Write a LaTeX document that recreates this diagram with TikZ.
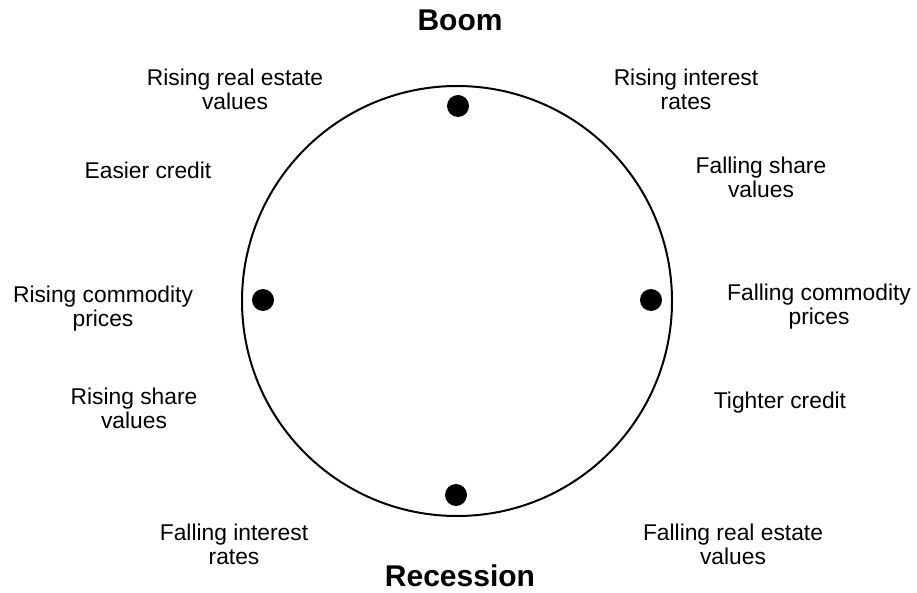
\documentclass[tikz,border=0pt]{standalone}
\usepackage{fontspec}
\setmainfont{Liberation Sans}
\begin{document}
\begin{tikzpicture}[x=1pt,y=-1pt,
  lbl/.style={align=center,font=\fontsize{22.8}{24}\selectfont,inner sep=0pt},
  ttl/.style={font=\fontsize{30}{32}\selectfont\bfseries,inner sep=0pt},
  dot/.style={circle,fill=black,minimum size=22pt,inner sep=0pt}]
\useasboundingbox (0,0) rectangle (917,593);
\node[circle,draw,line width=2pt,minimum size=430pt,inner sep=0pt] (cyc) at (457,301) {};
\node[dot] (d1) at (458,106) {};
\node[dot] (d2) at (263,300) {};
\node[dot] (d3) at (651,300) {};
\node[dot] (d4) at (456,495) {};
\node[ttl] (boom) at (460,20) {Boom};
\node[ttl] (rec) at (460,576) {Recession};
\node[lbl] (a) at (235,89) {Rising real estate\\values};
\node[lbl] (b) at (686,89) {Rising interest\\rates};
\node[lbl] (c) at (148,170) {Easier credit};
\node[lbl] (d) at (761,177) {Falling share\\values};
\node[lbl] (e) at (103,309) {Rising commodity\\prices};
\node[lbl] (f) at (819,307) {Falling commodity\\prices};
\node[lbl] (g) at (134,408) {Rising share\\values};
\node[lbl] (h) at (780,403) {Tighter credit};
\node[lbl] (i) at (234,544) {Falling interest\\rates};
\node[lbl] (j) at (733,544) {Falling real estate\\values};
\end{tikzpicture}
\end{document}
